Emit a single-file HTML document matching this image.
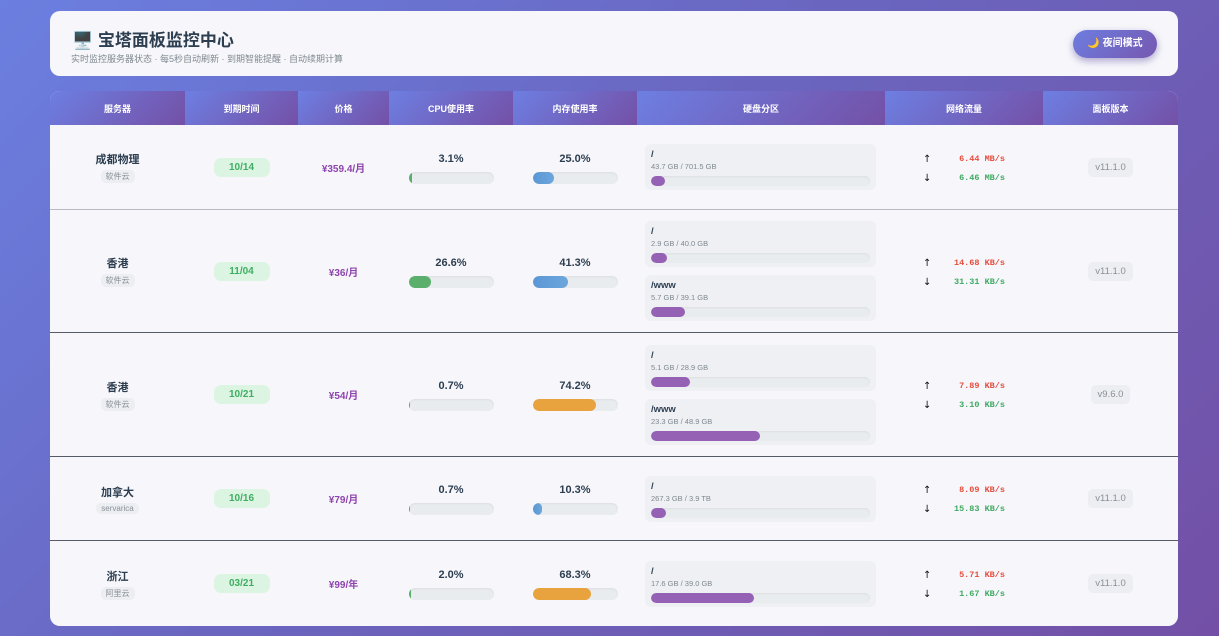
<!DOCTYPE html>
<html><head><meta charset="utf-8"><style>
*{margin:0;padding:0;box-sizing:border-box}
body{width:1219px;height:636px;overflow:hidden;background:linear-gradient(135deg,#6b7fe0 0%,#6a66c0 45%,#7350a6 100%);font-family:"Liberation Sans","Noto Sans CJK SC",sans-serif;color:#2c3e50;position:relative}
.hdr{position:absolute;left:50px;top:11px;width:1128px;height:65px;background:#f7f7fb;border-radius:10px}
.hdr h1{position:absolute;left:22px;top:15px;font-size:17px;font-weight:bold;color:#2c3e50}
.hdr p{position:absolute;left:21px;top:41px;font-size:9px;color:#7f8890}
.btn{position:absolute;left:1023px;top:19px;width:84px;height:28px;border-radius:14px;background:linear-gradient(135deg,#6d7de0,#7658b0);color:#fff;font-size:10px;font-weight:bold;text-align:center;line-height:28px;box-shadow:0 3px 8px rgba(60,40,140,.4)}
.tbl{position:absolute;left:50px;top:91px;width:1128px;height:535px;background:#f7f7fb;border-radius:10px;overflow:hidden}
.th{display:flex;height:34px}
.th div{background:linear-gradient(135deg,#6d7fe2,#7450a6);color:#fff;font-size:9px;font-weight:bold;display:flex;align-items:center;justify-content:center;padding:0}
.row{display:flex;align-items:center;border-bottom:1px solid #555a66;position:relative}
.row>div{display:flex;flex-direction:column;align-items:center;justify-content:center}
.c1{width:135px}.c2{width:113px}.c3{width:91px}.c4{width:124px}.c5{width:124px}.c6{width:248px}.c7{width:158px}.c8{width:135px}
.nm{font-size:11px;font-weight:bold}
.tag{font-size:8px;color:#8a9099;background:#eceef1;border-radius:5px;padding:1px 5px;margin-top:3px}
.date{width:56px;height:19px;border-radius:7px;background:#dcf5e3;color:#3fae62;font-size:10px;font-weight:bold;text-align:center;line-height:19px}
.price{color:#8e44ad;font-size:10px;font-weight:bold}
.pct{font-size:11px;font-weight:bold;margin-bottom:7px;margin-top:2px}
.trk{width:85px;height:12px;border-radius:6px;background:#e9ecee;overflow:hidden;box-shadow:inset 0 1px 2px rgba(0,0,0,.06)}
.trk i{display:block;height:100%;border-radius:6px}
.row .c6{align-items:stretch;padding:0 2px 0 8px}
.disk{width:231px;height:46px;background:#eef0f4;border-radius:6px;padding:5px 6px;position:relative}
.disk+.disk{margin-top:8px}
.disk b{display:block;font-size:9.5px;line-height:12px}
.disk s{display:block;text-decoration:none;font-size:7.5px;color:#7f8890;line-height:11px}
.disk .trk{width:219px;height:10px;margin-top:4px}
.net{font-family:"Liberation Mono",monospace;font-size:8.5px;font-weight:bold;width:82px;line-height:19px;padding-top:3px}
.net span{display:flex;justify-content:space-between}
.net em{font-style:normal;font-family:"DejaVu Sans",sans-serif;color:#111;font-weight:normal;font-size:10px}
.net i{font-style:normal}
.up{color:#e74c3c}.dn{color:#3eaa62}
.ver{font-size:9.5px;color:#8a8f98;background:#eceef1;border-radius:5px;padding:4px 7px}
.g{background:#5aaf6c}.b{background:linear-gradient(90deg,#5b97d5,#6ca6dc)}.o{background:#e8a23e}.p{background:#9461b5}
</style></head><body>
<div class="hdr"><h1>🖥️ 宝塔面板监控中心</h1><p>实时监控服务器状态 · 每5秒自动刷新 · 到期智能提醒 · 自动续期计算</p><div class="btn">🌙 夜间模式</div></div>
<div class="tbl">
<div class="th"><div class="c1">服务器</div><div class="c2">到期时间</div><div class="c3">价格</div><div class="c4">CPU使用率</div><div class="c5">内存使用率</div><div class="c6">硬盘分区</div><div class="c7">网络流量</div><div class="c8">面板版本</div></div>

<div class="row" style="height:85px;border-bottom-color:#b8bac4"><div class="c1"><span class="nm">成都物理</span><span class="tag">软件云</span></div><div class="c2"><span class="date">10/14</span></div><div class="c3"><span class="price">¥359.4/月</span></div><div class="c4"><span class="pct">3.1%</span><div class="trk"><i class="g" style="width:3px"></i></div></div><div class="c5"><span class="pct">25.0%</span><div class="trk"><i class="b" style="width:21px"></i></div></div><div class="c6"><div class="disk"><b>/</b><s>43.7 GB / 701.5 GB</s><div class="trk"><i class="p" style="width:14px"></i></div></div></div><div class="c7"><div class="net"><span><em>↑</em><i class="up">6.44 MB/s</i></span><span><em>↓</em><i class="dn">6.46 MB/s</i></span></div></div><div class="c8"><span class="ver">v11.1.0</span></div></div>

<div class="row" style="height:123px"><div class="c1"><span class="nm">香港</span><span class="tag">软件云</span></div><div class="c2"><span class="date">11/04</span></div><div class="c3"><span class="price">¥36/月</span></div><div class="c4"><span class="pct">26.6%</span><div class="trk"><i class="g" style="width:22px"></i></div></div><div class="c5"><span class="pct">41.3%</span><div class="trk"><i class="b" style="width:35px"></i></div></div><div class="c6"><div class="disk"><b>/</b><s>2.9 GB / 40.0 GB</s><div class="trk"><i class="p" style="width:16px"></i></div></div><div class="disk"><b>/www</b><s>5.7 GB / 39.1 GB</s><div class="trk"><i class="p" style="width:34px"></i></div></div></div><div class="c7"><div class="net"><span><em>↑</em><i class="up">14.68 KB/s</i></span><span><em>↓</em><i class="dn">31.31 KB/s</i></span></div></div><div class="c8"><span class="ver">v11.1.0</span></div></div>

<div class="row" style="height:124px"><div class="c1"><span class="nm">香港</span><span class="tag">软件云</span></div><div class="c2"><span class="date">10/21</span></div><div class="c3"><span class="price">¥54/月</span></div><div class="c4"><span class="pct">0.7%</span><div class="trk"><i class="g" style="width:1px"></i></div></div><div class="c5"><span class="pct">74.2%</span><div class="trk"><i class="o" style="width:63px"></i></div></div><div class="c6"><div class="disk"><b>/</b><s>5.1 GB / 28.9 GB</s><div class="trk"><i class="p" style="width:39px"></i></div></div><div class="disk"><b>/www</b><s>23.3 GB / 48.9 GB</s><div class="trk"><i class="p" style="width:109px"></i></div></div></div><div class="c7"><div class="net"><span><em>↑</em><i class="up">7.89 KB/s</i></span><span><em>↓</em><i class="dn">3.10 KB/s</i></span></div></div><div class="c8"><span class="ver">v9.6.0</span></div></div>

<div class="row" style="height:84px"><div class="c1"><span class="nm">加拿大</span><span class="tag">servarica</span></div><div class="c2"><span class="date">10/16</span></div><div class="c3"><span class="price">¥79/月</span></div><div class="c4"><span class="pct">0.7%</span><div class="trk"><i class="g" style="width:1px"></i></div></div><div class="c5"><span class="pct">10.3%</span><div class="trk"><i class="b" style="width:9px"></i></div></div><div class="c6"><div class="disk"><b>/</b><s>267.3 GB / 3.9 TB</s><div class="trk"><i class="p" style="width:15px"></i></div></div></div><div class="c7"><div class="net"><span><em>↑</em><i class="up">8.09 KB/s</i></span><span><em>↓</em><i class="dn">15.83 KB/s</i></span></div></div><div class="c8"><span class="ver">v11.1.0</span></div></div>

<div class="row" style="height:85px;border-bottom:none"><div class="c1"><span class="nm">浙江</span><span class="tag">阿里云</span></div><div class="c2"><span class="date">03/21</span></div><div class="c3"><span class="price">¥99/年</span></div><div class="c4"><span class="pct">2.0%</span><div class="trk"><i class="g" style="width:2px"></i></div></div><div class="c5"><span class="pct">68.3%</span><div class="trk"><i class="o" style="width:58px"></i></div></div><div class="c6"><div class="disk"><b>/</b><s>17.6 GB / 39.0 GB</s><div class="trk"><i class="p" style="width:103px"></i></div></div></div><div class="c7"><div class="net"><span><em>↑</em><i class="up">5.71 KB/s</i></span><span><em>↓</em><i class="dn">1.67 KB/s</i></span></div></div><div class="c8"><span class="ver">v11.1.0</span></div></div>
</div>
</body></html>
